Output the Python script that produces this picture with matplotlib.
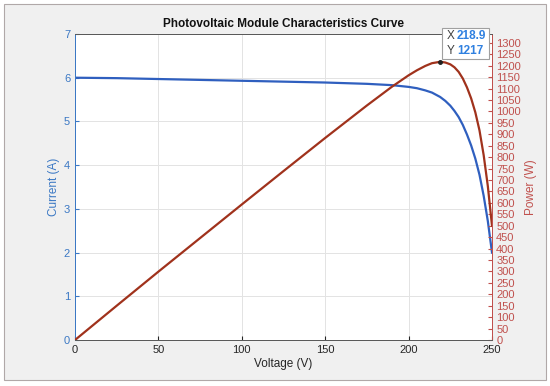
import matplotlib.pyplot as plt
from matplotlib.patches import Rectangle

plt.rcParams['font.family'] = ['Liberation Sans', 'DejaVu Sans']

# Values
voltage = [0, 25, 50, 75, 100, 125, 150, 175, 190, 200, 205, 210, 214, 218.9, 222, 225,
           227.5, 230, 232.5, 235, 237.5, 240, 242.5, 245, 247.5, 250]
current = [6.00, 5.99, 5.97, 5.95, 5.93, 5.91, 5.89, 5.86, 5.83, 5.79, 5.76, 5.71, 5.66,
           5.56, 5.47, 5.36, 5.24, 5.10, 4.92, 4.70, 4.45, 4.15, 3.78, 3.30, 2.72, 2.00]
power = [0, 150, 299, 446, 593, 739, 884, 1026, 1108, 1158, 1180, 1199, 1211, 1217, 1214,
         1206, 1193, 1173, 1144, 1105, 1057, 996, 917, 809, 673, 500]
peak_v = 218.9
peak_p = 1217

blue = '#2f5fbf'
blue_txt = '#3b78c4'
red = '#a0321c'
red_txt = '#c0504d'

fig = plt.figure(figsize=(5.5, 3.86), dpi=100)
fig.patch.set_facecolor('white')
fig.patches.append(Rectangle((4 / 550, 6 / 386), 542 / 550, 376 / 386, transform=fig.transFigure,
                             facecolor='#f0f0f0', edgecolor='#b0a8a8', linewidth=0.8, zorder=-5))

ax = fig.add_axes([75 / 550, 46 / 386, 417 / 550, 306 / 386])
ax.set_facecolor('white')
ax2 = ax.twinx()

ax.plot(voltage, current, color=blue, linewidth=1.6, zorder=3)
ax2.plot(voltage, power, color=red, linewidth=1.6, zorder=3)
ax2.plot([peak_v], [peak_p], 'o', color='#202020', markersize=2.5, zorder=4)

ax.set_xlim(0, 250)
ax.set_ylim(0, 7)
ax2.set_ylim(0, peak_p * 1.1)
ax.set_xticks([0, 50, 100, 150, 200, 250])
ax.set_yticks(range(0, 8))
ax2.set_yticks(range(0, 1301, 50))

ax.grid(True, color='#e3e3e3', linewidth=0.7)
ax.set_axisbelow(True)

ax.tick_params(axis='x', direction='in', labelsize=8, colors='#262626', length=3)
ax.tick_params(axis='y', direction='in', labelsize=8, colors=blue_txt, length=3)
ax2.tick_params(axis='y', direction='in', labelsize=8, colors=red_txt, length=3, pad=3)

for a in (ax, ax2):
    a.spines['top'].set_color('#5a5a5a')
    a.spines['bottom'].set_color('#5a5a5a')
    a.spines['left'].set_color(blue_txt)
    a.spines['right'].set_color(red_txt)
    for s in a.spines.values():
        s.set_linewidth(0.7)

ax.set_xlabel('Voltage (V)', fontsize=8.5, color='#262626', labelpad=2)
ax.set_ylabel('Current (A)', fontsize=8.5, color=blue_txt, labelpad=3)
ax2.set_ylabel('Power (W)', fontsize=8.5, color=red_txt, labelpad=3)
ax.set_title('Photovoltaic Module Characteristics Curve', fontsize=8.5,
             fontweight='bold', color='#111111', pad=5)

# data tip box
fig.patches.append(Rectangle((442 / 550, (386 - 59) / 386), 47 / 550, 31 / 386,
                             transform=fig.transFigure, facecolor='white',
                             edgecolor='#a0a0a0', linewidth=0.8, zorder=10))
fig.text(447 / 550, (386 - 39) / 386, 'X', fontsize=8.5, color='#404040', zorder=11)
fig.text(457 / 550, (386 - 39) / 386, '218.9', fontsize=8.5, color='#2f80e0',
         fontweight='bold', zorder=11)
fig.text(447 / 550, (386 - 54) / 386, 'Y', fontsize=8.5, color='#404040', zorder=11)
fig.text(457 / 550, (386 - 54) / 386, '1217', fontsize=8.5, color='#2f80e0',
         fontweight='bold', zorder=11)

fig.savefig('out.png', dpi=100, facecolor=fig.get_facecolor())
